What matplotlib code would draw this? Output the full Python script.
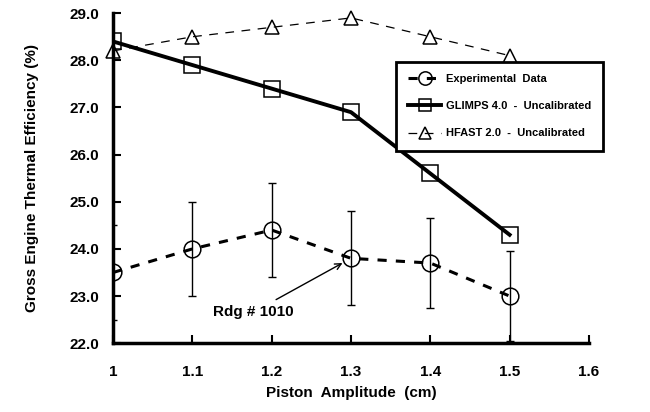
import numpy as np
import matplotlib.pyplot as plt

plt.rcParams['font.family'] = ['Liberation Sans', 'DejaVu Sans']
plt.rcParams['font.weight'] = 'bold'
plt.rcParams['axes.labelweight'] = 'bold'

# piston amplitude (cm)
amplitude = [1.0, 1.1, 1.2, 1.3, 1.4, 1.5]

# efficiency values (%)
experimental = [23.5, 24.0, 24.4, 23.8, 23.7, 23.0]
exp_err = [1.0, 1.0, 1.0, 1.0, 0.95, 0.95]
glimps = [28.4, 27.9, 27.4, 26.9, 25.6, 24.3]
hfast = [28.2, 28.5, 28.7, 28.9, 28.5, 28.1]

x_ticks = [1.0, 1.1, 1.2, 1.3, 1.4, 1.5, 1.6]
x_labels = ['1', '1.1', '1.2', '1.3', '1.4', '1.5', '1.6']
y_ticks = [22, 23, 24, 25, 26, 27, 28, 29]

fig = plt.figure(figsize=(6.5, 4.12), dpi=100)
ax = fig.add_axes([0.174, 0.167, 0.732, 0.801])

ax.errorbar(amplitude, experimental, yerr=exp_err, fmt='none', ecolor='black',
            elinewidth=1, capsize=3, capthick=1)
ax.plot(amplitude, experimental, linestyle=(0, (3, 3)), color='black', lw=2.2,
        marker='o', ms=12, mfc='none', mec='black', mew=1.1,
        label='Experimental  Data')
ax.plot(amplitude, glimps, linestyle='-', color='black', lw=2.8,
        marker='s', ms=11, mfc='none', mec='black', mew=1.1,
        label='GLIMPS 4.0  -  Uncalibrated')
ax.plot(amplitude, hfast, linestyle=(0, (7, 6)), color='black', lw=0.9,
        marker='^', ms=10, mfc='none', mec='black', mew=1.1,
        label='HFAST 2.0  -  Uncalibrated', clip_on=False)

ax.annotate('Rdg # 1010', xy=(1.3, 23.8), xytext=(1.177, 22.66),
            fontsize=11, ha='center', va='center',
            arrowprops=dict(arrowstyle='->', color='black', lw=1,
                            shrinkA=4, shrinkB=7))

ax.set_xlim(1.0, 1.6)
ax.set_ylim(22, 29)
ax.set_xticks(x_ticks)
ax.set_xticklabels(x_labels)
ax.set_yticks(y_ticks)
ax.set_yticklabels(['%.1f' % v for v in y_ticks])
ax.tick_params(direction='in', length=6, width=1.5, labelsize=11, pad=16)
ax.tick_params(axis='y', pad=10)

ax.spines['top'].set_visible(False)
ax.spines['right'].set_visible(False)
ax.spines['left'].set_linewidth(2.5)
ax.spines['bottom'].set_linewidth(2.5)

ax.set_xlabel('Piston  Amplitude  (cm)', fontsize=11, labelpad=5)
ax.set_ylabel('Gross Engine Thermal Efficiency (%)', fontsize=11, labelpad=22)

leg = ax.legend(loc='upper right', bbox_to_anchor=(0.928, 0.85),
                bbox_transform=fig.transFigure, fontsize=8,
                frameon=True, fancybox=False, edgecolor='black', framealpha=1,
                handlelength=3.0, handletextpad=0.4, markerscale=0.8,
                borderpad=1.1, labelspacing=1.55, borderaxespad=0)
leg.get_frame().set_linewidth(2)

fig.savefig('out.png', dpi=100)
